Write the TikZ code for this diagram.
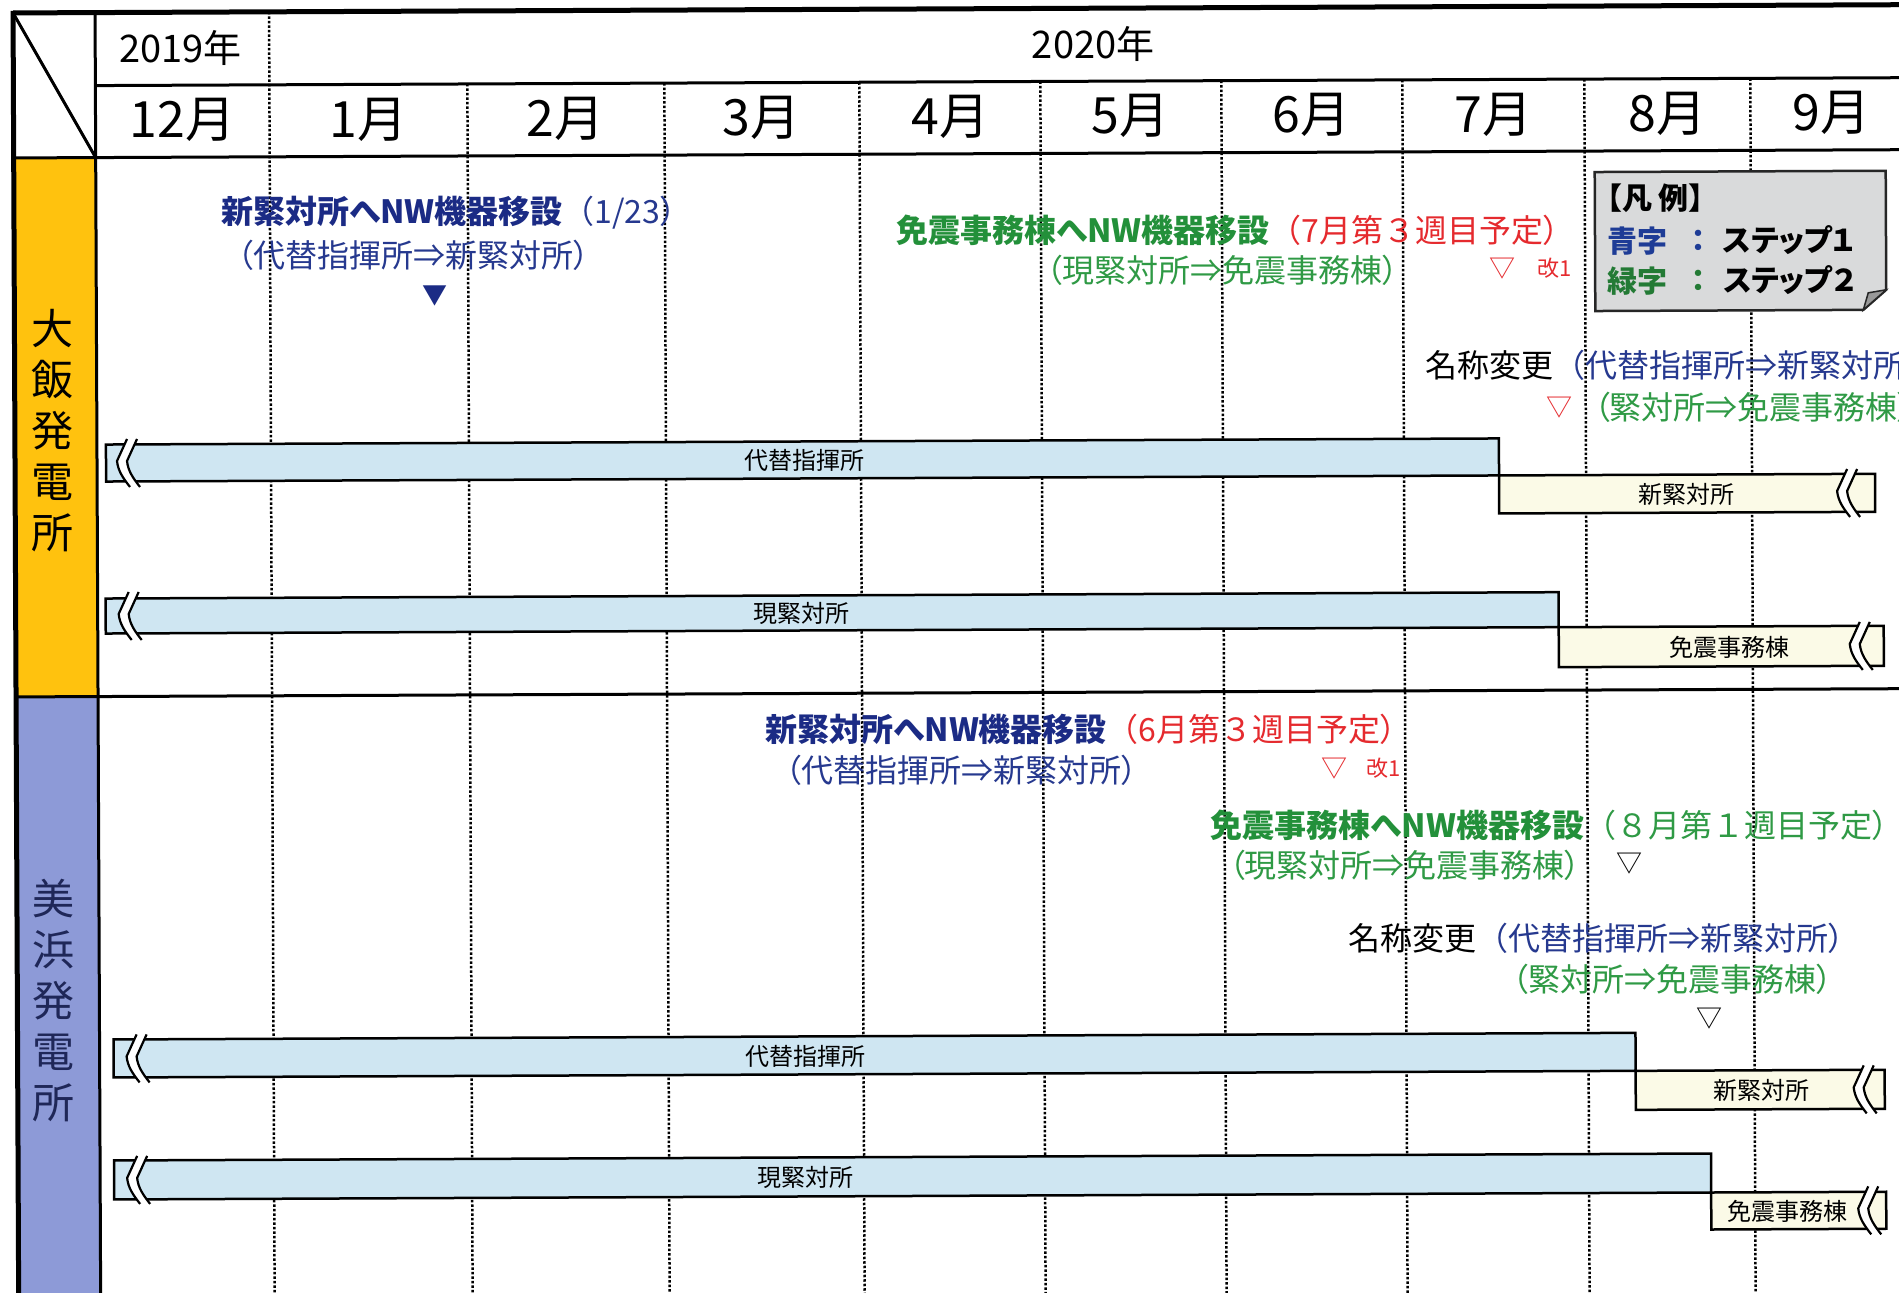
\documentclass[tikz,border=0pt]{standalone}
\usepackage{fontspec}
\setmainfont{Noto Sans CJK JP}[RawFeature=+palt]
\newfontfamily\fw{Noto Sans CJK JP}
\definecolor{ohiY}{HTML}{FFC20E}
\definecolor{mihB}{HTML}{8D9AD7}
\definecolor{barblue}{HTML}{CFE6F2}
\definecolor{cream}{HTML}{FBFAE7}
\definecolor{navyB}{HTML}{1B2B85}
\definecolor{navyR}{HTML}{26398F}
\definecolor{grnB}{HTML}{23903A}
\definecolor{grnR}{HTML}{2F9A45}
\definecolor{redR}{HTML}{E52A2E}
\definecolor{legG}{HTML}{D9DADB}
\definecolor{lblue}{HTML}{1E3C96}
\definecolor{lgreen}{HTML}{237A35}
\definecolor{mihT}{HTML}{1F2758}
\tikzset{
  frameline/.style={line width=5pt},
  hline/.style={line width=3pt},
  mline/.style={line width=2.5pt, dash pattern=on 2.5pt off 2pt},
  barA/.style={draw, line width=2.5pt, fill=barblue},
  barB/.style={draw, line width=2.5pt, fill=cream},
  mon/.style={font=\fontsize{50}{50}\selectfont, inner sep=0},
  yr/.style={font=\fontsize{38}{38}\selectfont, inner sep=0},
  barlbl/.style={font=\fontsize{24}{24}\selectfont, inner sep=0},
  ann/.style={font=\fontsize{32}{32}\selectfont, anchor=west, inner sep=0},
  leg/.style={font=\fontsize{30}{30}\selectfont\bfseries, anchor=west, inner sep=0},
  tri/.style={font=\fontsize{26}{26}\selectfont, inner sep=0},
  kai/.style={font=\fontsize{22}{22}\selectfont, inner sep=0, text=redR},
  rowlbl/.style={font=\fontsize{42}{51}\selectfont, align=center, inner sep=0},
  brk/.pic={
    \fill[white] (10,-24) -- (0,-2) .. controls (1,8) and (6,15) .. (13,24) -- (23,24) .. controls (16,15) and (11,8) .. (10,-2) -- (20,-24) -- cycle;
    \draw[line width=2.2pt] (10,-24) -- (0,-2) .. controls (1,8) and (6,15) .. (13,24);
    \draw[line width=2.2pt] (20,-24) -- (10,-2) .. controls (11,8) and (16,15) .. (23,24);
  }
}
\begin{document}
\begin{tikzpicture}[x=1pt,y=-1pt]
\useasboundingbox (0,0) rectangle (1899,1293);
\clip (0,0) rectangle (1899,1293);
\fill[white] (0,0) rectangle (1899,1293);
\begin{scope}[rotate around={0.25:(0,0)}]
% side columns
\fill[ohiY] (13,158) rectangle (95,697);
\fill[mihB] (13,697) rectangle (95,1320);
% month grid (dotted)
\draw[mline] (269,13) -- (269,1320);
\foreach \x in {467,664,859,1040,1221,1402,1584,1750}
  \draw[mline] (\x,86) -- (\x,1320);
% frame and header lines
\draw[frameline] (13,13) -- (1930,13);
\draw[frameline] (13,11) -- (13,1320);
\draw[hline] (95,13) -- (95,1320);
\draw[hline] (13,13) -- (95,158);
\draw[hline] (95,86) -- (1930,86);
\draw[hline] (13,158) -- (1930,158);
\draw[hline] (13,697) -- (1930,697);
% year and month labels
\node[yr] (y2019) at (180,49) {2019年};
\node[yr] (y2020) at (1093,49) {2020年};
\foreach \n/\x/\t in {m12/182/12月,m01/368/1月,m02/565/2月,m03/761/3月,m04/950/4月,m05/1130/5月,m06/1311/6月,m07/1493/7月,m08/1667/8月,m09/1831/9月}
  \node[mon] (\n) at (\x,121) {\t};
% row labels
\node[rowlbl] (ohi) at (51,431) {大\\飯\\発\\電\\所};
\node[rowlbl, text=mihT] (mihama) at (49,1001) {美\\浜\\発\\電\\所};
% ---------------- Ohi bars
\draw[barA] (104,445) rectangle (1497,482);
\pic at (115,463.5) {brk};
\node[barlbl] (oAlt) at (803,464) {代替指揮所};
\draw[barB] (1497,482) rectangle (1873,520);
\pic at (1835,501) {brk};
\node[barlbl] (oNew) at (1684,502) {新緊対所};
\draw[barA] (103,599) rectangle (1556,634);
\pic at (116,616.5) {brk};
\node[barlbl] (oCur) at (799,617) {現緊対所};
\draw[barB] (1556,634) rectangle (1881,674);
\pic at (1847,654) {brk};
\node[barlbl] (oMen) at (1727,655) {免震事務棟};
% ---------------- Mihama bars
\draw[barA] (109,1040) rectangle (1631,1078);
\pic at (122,1059) {brk};
\node[barlbl] (mAlt) at (801,1060) {代替指揮所};
\draw[barB] (1631,1078) rectangle (1880,1117);
\pic at (1849,1097.5) {brk};
\node[barlbl] (mNew) at (1757,1098) {新緊対所};
\draw[barA] (109,1161) rectangle (1706,1200);
\pic at (122,1180.5) {brk};
\node[barlbl] (mCur) at (800,1181) {現緊対所};
\draw[barB] (1706,1200) rectangle (1881,1237);
\pic at (1853,1218.5) {brk};
\node[barlbl] (mMen) at (1782,1219) {免震事務棟};
% ---------------- Ohi annotations
\node[ann] (oA1) at (220,214) {\textcolor{navyB}{\bfseries 新緊対所へNW機器移設}\textcolor{navyR}{{\fw（}1/23）}};
\node[ann, text=navyR] (oA2) at (236,256) {（代替指揮所⇒新緊対所）};
\node[font=\fontsize{25}{25}\selectfont, inner sep=0, text=navyB] (oTri1) at (434,298) {▼};
\node[ann] (oB1) at (895,234) {\textcolor{grnB}{\bfseries 免震事務棟へNW機器移設}\textcolor{redR}{{\fw（}7月第{\fw ３}週目予定）}};
\node[ann, text=grnR] (oB2) at (1045,275) {（現緊対所⇒免震事務棟）};
\node[tri, text=redR] (oTri2) at (1501,275) {▽};
\node[kai] (oKai) at (1553,275) {改1};
\node[ann] (oC1) at (1424,372) {名称変更\textcolor{navyR}{{\fw（}代替指揮所⇒新緊対所}};
\node[tri, text=redR] (oTri3) at (1558,414) {▽};
\node[ann, text=grnR] (oC2) at (1592,414) {（緊対所⇒免震事務棟）};
% legend
\filldraw[fill=legG, draw=black!85, line width=2.5pt] (1594,179) -- (1885,179) -- (1885,298) -- (1862,318) -- (1594,318) -- cycle;
\filldraw[fill=black!40, draw=black!85, line width=1.5pt] (1885,298) -- (1867,301) -- (1862,318) -- cycle;
\node[leg] (legT) at (1606,205) {【凡 例】};
\node[leg, text=lblue] (legB) at (1606,248) {青字};
\node[leg, text=lblue, anchor=center] (legBc) at (1697,248) {：};
\node[leg] (legB2) at (1722,248) {ステップ１};
\node[leg, text=lgreen] (legG) at (1606,288) {緑字};
\node[leg, text=lgreen, anchor=center] (legGc) at (1697,288) {：};
\node[leg] (legG2) at (1722,288) {ステップ２};
% ---------------- Mihama annotations
\node[ann] (mA1) at (762,733) {\textcolor{navyB}{\bfseries 新緊対所へNW機器移設}\textcolor{redR}{{\fw（}6月第{\fw ３}週目予定）}};
\node[ann, text=navyR] (mA2) at (782,774) {（代替指揮所⇒新緊対所）};
\node[tri, text=redR] (mTri1) at (1331,774) {▽};
\node[kai] (mKai) at (1380,774) {改1};
\node[ann] (mB1) at (1207,831) {\textcolor{grnB}{\bfseries 免震事務棟へNW機器移設}\textcolor{grnR}{{\fw（８}月第{\fw １}週目予定）}};
\node[ann, text=grnR] (mB2) at (1225,871) {（現緊対所⇒免震事務棟）};
\node[tri] (mTri2) at (1626,871) {▽};
\node[ann] (mC1) at (1344,944) {名称変更\textcolor{navyR}{{\fw（}代替指揮所⇒新緊対所）}};
\node[ann, text=grnR] (mC2) at (1508,986) {（緊対所⇒免震事務棟）};
\node[tri] (mTri3) at (1705,1026) {▽};
\end{scope}
\end{tikzpicture}
\end{document}
